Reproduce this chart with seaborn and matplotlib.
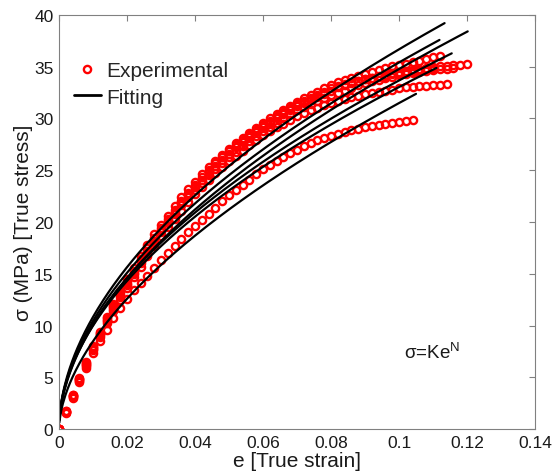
import numpy as np
import pandas as pd
import matplotlib
matplotlib.use("Agg")
import matplotlib.pyplot as plt
import seaborn as sns
from matplotlib.lines import Line2D

# strain steps of the tests
strain = [0.000, 0.002, 0.004, 0.006, 0.008, 0.010, 0.012, 0.014, 0.016, 0.018,
          0.020, 0.022, 0.024, 0.026, 0.028, 0.030, 0.032, 0.034, 0.036, 0.038,
          0.040, 0.042, 0.044, 0.046, 0.048, 0.050, 0.052, 0.054, 0.056, 0.058,
          0.060, 0.062, 0.064, 0.066, 0.068, 0.070, 0.072, 0.074, 0.076, 0.078,
          0.080, 0.082, 0.084, 0.086, 0.088, 0.090, 0.092, 0.094, 0.096, 0.098,
          0.100, 0.102, 0.104, 0.106, 0.108, 0.110, 0.112, 0.114, 0.116, 0.118,
          0.120]

# experimental true stress (MPa)
test1 = [0, 1.6, 3.2, 4.8, 6.3, 7.8, 9.2, 10.5, 11.8, 12.9, 14.0,
         15.1, 16.2, 17.2, 18.2, 19.2, 20.1, 21.0, 21.9, 22.7, 23.4,
         24.1, 24.8, 25.4, 26.0, 26.6, 27.2, 27.7, 28.2, 28.7, 29.2,
         29.6, 30.0, 30.4, 30.8, 31.2, 31.5, 31.8, 32.1, 32.4, 32.7,
         33.0, 33.2, 33.4, 33.6, 33.8, 33.9, 34.1, 34.2, 34.4, 34.5,
         34.6, 34.7, 34.8, 34.9, 35.0, 35.1, 35.1, 35.2, 35.2, 35.3]
test2 = [0, 1.7, 3.3, 4.9, 6.5, 8.0, 9.4, 10.8, 12.1, 13.3, 14.5,
         15.6, 16.7, 17.8, 18.8, 19.7, 20.6, 21.5, 22.4, 23.2, 23.9,
         24.6, 25.3, 25.9, 26.5, 27.1, 27.6, 28.1, 28.6, 29.1, 29.6,
         30.0, 30.4, 30.8, 31.2, 31.6, 32.0, 32.3, 32.6, 32.9, 33.2,
         33.5, 33.7, 33.9, 34.1, 34.3, 34.5, 34.7, 34.9, 35.1, 35.2,
         35.3, 35.5, 35.6, 35.7, 35.9, 36.0]
test3 = [0, 1.7, 3.3, 4.8, 6.4, 7.9, 9.3, 10.7, 11.9, 13.1, 14.2,
         15.3, 16.4, 17.5, 18.5, 19.4, 20.3, 21.2, 22.0, 22.8, 23.6,
         24.3, 25.0, 25.7, 26.3, 26.9, 27.4, 27.9, 28.4, 28.9, 29.4,
         29.8, 30.2, 30.6, 31.0, 31.4, 31.7, 32.0, 32.3, 32.6, 32.9,
         33.1, 33.3, 33.5, 33.6, 33.8, 33.9, 34.0, 34.1, 34.3, 34.4,
         34.5, 34.6, 34.6, 34.7, 34.8]
test4 = [0, 1.6, 3.1, 4.6, 6.1, 7.6, 8.9, 10.2, 11.4, 12.5, 13.6,
         14.7, 15.7, 16.7, 17.7, 18.6, 19.5, 20.3, 21.1, 21.9, 22.7,
         23.4, 24.1, 24.7, 25.3, 25.9, 26.4, 26.9, 27.4, 27.9, 28.4,
         28.8, 29.2, 29.5, 29.9, 30.2, 30.5, 30.8, 31.0, 31.3, 31.5,
         31.7, 31.9, 32.1, 32.2, 32.4, 32.5, 32.6, 32.7, 32.8, 32.9,
         33.0, 33.0, 33.1, 33.1, 33.2, 33.2, 33.3]
test5 = [0, 1.5, 3.0, 4.5, 5.9, 7.3, 8.5, 9.6, 10.7, 11.7, 12.6,
         13.4, 14.1, 14.8, 15.6, 16.3, 17.0, 17.7, 18.4, 19.0, 19.6,
         20.2, 20.8, 21.4, 22.0, 22.6, 23.1, 23.6, 24.1, 24.6, 25.1,
         25.5, 25.9, 26.3, 26.7, 27.0, 27.3, 27.6, 27.9, 28.1, 28.3,
         28.5, 28.7, 28.9, 29.0, 29.2, 29.3, 29.4, 29.5, 29.6, 29.7,
         29.8, 29.9]
test6 = [0, 1.6, 3.2, 4.7, 6.2, 7.7, 9.1, 10.4, 11.6, 12.8, 13.9,
         15.0, 16.0, 17.0, 18.0, 19.0, 19.9, 20.8, 21.6, 22.4, 23.1,
         23.8, 24.5, 25.1, 25.7, 26.3, 26.8, 27.3, 27.8, 28.3, 28.8,
         29.2, 29.6, 30.0, 30.4, 30.8, 31.1, 31.4, 31.7, 32.0, 32.3,
         32.5, 32.7, 32.9, 33.2, 33.4, 33.6, 33.7, 33.9, 34.0, 34.2,
         34.3, 34.4, 34.5, 34.6, 34.7, 34.8, 34.8, 34.9]
tests = [test1, test2, test3, test4, test5, test6]

# power law fits  sigma = K e^N
fit_K = [124.3, 120.0, 120.6, 111.5, 117.0, 109.4]
fit_N = [0.53, 0.53, 0.54, 0.52, 0.57, 0.52]
fit_end = [0.1134, 0.1119, 0.1202, 0.1155, 0.105, 0.111]

xticks = [0, 0.02, 0.04, 0.06, 0.08, 0.1, 0.12, 0.14]
xticklabels = ["0", "0.02", "0.04", "0.06", "0.08", "0.1", "0.12", "0.14"]
yticks = [0, 5, 10, 15, 20, 25, 30, 35, 40]

sns.set_theme(style="white")
plt.rcParams["font.family"] = ["Liberation Sans", "DejaVu Sans"]
plt.rcParams["mathtext.fontset"] = "custom"
plt.rcParams["mathtext.rm"] = "Liberation Sans"
plt.rcParams["mathtext.it"] = "Liberation Sans"

rows = []
for i, s in enumerate(tests):
    for e, v in zip(strain[:len(s)], s):
        rows.append({"strain": e, "stress": v, "test": i})
df = pd.DataFrame(rows)

fit_rows = []
for i, (K, N, end) in enumerate(zip(fit_K, fit_N, fit_end)):
    e = np.linspace(0.0001, end, 300)
    for a, b in zip(e, K * e ** N):
        fit_rows.append({"strain": a, "stress": b, "fit": i})
fit_df = pd.DataFrame(fit_rows)

fig = plt.figure(figsize=(5.53, 4.77), dpi=100)
ax = fig.add_axes([0.1067, 0.0985, 0.8608, 0.868])

for i in range(len(tests)):
    d = df[df["test"] == i]
    sns.lineplot(data=d, x="strain", y="stress", ax=ax, sort=False, estimator=None,
                 linestyle="", marker="o", markersize=5.2, markerfacecolor="none",
                 markeredgecolor="red", markeredgewidth=1.7, color="red")
for i in range(len(fit_K)):
    d = fit_df[fit_df["fit"] == i]
    sns.lineplot(data=d, x="strain", y="stress", ax=ax, sort=False, estimator=None,
                 color="black", linewidth=1.6)

ax.set_xlim(0, 0.14)
ax.set_ylim(0, 40)
ax.set_xticks(xticks)
ax.set_xticklabels(xticklabels)
ax.set_yticks(yticks)
ax.tick_params(direction="in", length=4, width=0.8, color="#808080", top=True, right=True,
               labelsize=12.5, labelcolor="#1a1a1a", pad=4)
for sp in ax.spines.values():
    sp.set_color("#808080")
    sp.set_linewidth(0.8)
ax.set_xlabel("e [True strain]", fontsize=15, color="#1a1a1a", labelpad=1)
ax.set_ylabel("σ (MPa) [True stress]", fontsize=15, color="#1a1a1a", labelpad=1)

ax.text(0.1015, 7.4, r"σ=Ke$^{\mathrm{N}}$", fontsize=13.5, color="#1a1a1a", va="center")

handles = [Line2D([], [], linestyle="", marker="o", markersize=5.2, markerfacecolor="none",
                  markeredgecolor="red", markeredgewidth=1.7),
           Line2D([], [], color="black", linewidth=2)]
ax.legend(handles, ["Experimental", "Fitting"], loc="upper left", bbox_to_anchor=(0.013, 0.908),
          frameon=False, fontsize=15, handlelength=1.3, handletextpad=0.25, labelspacing=0.35,
          borderaxespad=0.0)

fig.savefig("out.png", dpi=100)
